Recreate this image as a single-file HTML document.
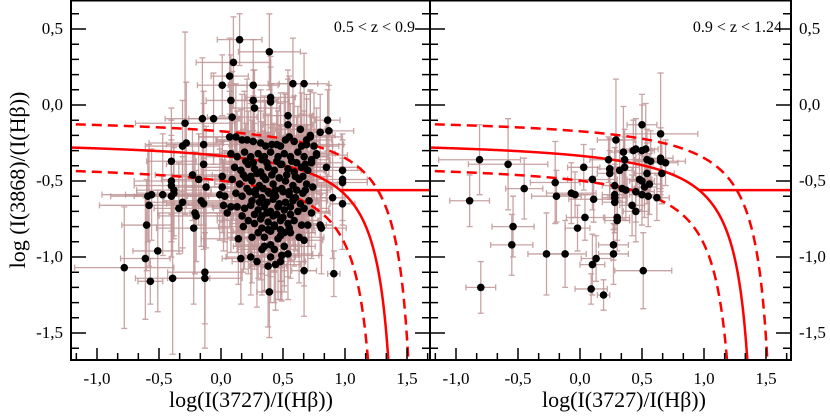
<!DOCTYPE html>
<html><head><meta charset="utf-8">
<style>
html,body{margin:0;padding:0;background:#fff;}
svg{display:block;}
text{font-family:"Liberation Serif","DejaVu Serif",serif;}
</style></head>
<body>
<svg id="chart" width="830" height="417" viewBox="0 0 830 417" xmlns="http://www.w3.org/2000/svg">
<defs>
<clipPath id="clipL"><rect x="71" y="0" width="359" height="360"/></clipPath>
<clipPath id="clipR"><rect x="430" y="0" width="361" height="360"/></clipPath>
</defs>
<g id="bars"></g>
<g id="curves"></g>
<g id="dots"></g>
<g id="axes"></g>
<text transform="translate(25,180) rotate(-90)" text-anchor="middle" font-size="22">log (I(3868)/(I(Hβ))</text>
<text x="251" y="407" text-anchor="middle" font-size="22">log(I(3727)/I(Hβ))</text>
<text x="624" y="407" text-anchor="middle" font-size="22">log(I(3727)/I(Hβ))</text>
<text x="415" y="32" text-anchor="end" font-size="16">0.5 &lt; z &lt; 0.9</text>
<text x="782" y="32" text-anchor="end" font-size="16">0.9 &lt; z &lt; 1.24</text>
</svg>
<script>
// Left panel data (0.5 < z < 0.9)
const lx = [0.15,0.39,0.10,0.07,0.01,0.26,0.58,0.67,0.08,0.26,
0.27,0.40,0.40,-0.29,-0.15,-0.06,0.09,0.54,0.54,0.86,
0.87,0.80,0.64,0.72,0.69,0.77,0.73,0.85,0.98,0.98,
0.98,0.90,0.98,0.80,0.81,0.67,0.91,0.39,0.16,0.24,
0.29,0.38,0.44,0.48,0.49,0.54,0.33,0.40,0.48,0.56,
0.63,0.67,0.70,0.25,0.14,0.18,0.05,0.13,0.17,0.02,
0.03,-0.01,0.01,0.01,-0.14,-0.14,-0.28,-0.31,-0.40,-0.40,
-0.40,-0.38,-0.38,-0.40,-0.31,-0.34,-0.47,-0.56,-0.59,-0.58,
-0.60,-0.61,-0.51,-0.57,-0.39,-0.78,-0.13,-0.13,-0.21,-0.20,
-0.22,-0.16,-0.14,-0.12,-0.18,-0.23,0.07,0.12,0.17,0.21,
0.26,0.32,0.36,0.41,0.45,0.48,0.52,0.55,0.59,0.65,
0.69,0.72,0.75,0.77,
0.08,0.13,0.19,0.24,0.30,0.35,0.40,0.46,0.51,0.56,0.62,0.67,0.73,
0.11,0.16,0.22,0.27,0.32,0.38,0.43,0.48,0.54,0.59,0.65,0.70,
0.09,0.15,0.20,0.25,0.31,0.36,0.42,0.47,0.52,0.58,0.63,0.69,0.74,
0.12,0.17,0.23,0.28,0.33,0.39,0.44,0.50,0.55,0.60,0.66,0.71,
0.08,0.19,0.24,0.30,0.35,0.40,0.46,0.51,0.56,0.62,0.67,0.73,
0.22,0.27,0.32,0.38,0.43,0.48,0.54,0.59,0.65,
0.30,0.35,0.40,0.46,0.51,0.35,0.43,0.51,0.40,
0.20,0.26,0.33,0.37,0.45,0.49,0.57,0.61,0.68,
0.18,0.24,0.29,0.34,0.41,0.47,0.53,0.60,0.66,
0.21,0.28,0.34,0.38,0.44,0.49,0.55,0.61,0.68,
0.25,0.31,0.37,0.42,0.47,0.52,0.58,0.64,
0.27,0.33,0.37,0.42,0.45,0.50,0.56,
0.33,0.38,0.43,0.48,0.55];
const ly = [0.43,0.35,0.28,0.19,0.13,0.13,0.14,0.14,0.03,0.03,
-0.02,0.02,0.05,-0.12,-0.09,-0.09,-0.08,-0.07,-0.13,-0.10,
-0.17,-0.18,-0.16,-0.20,-0.26,-0.33,-0.38,-0.41,-0.43,-0.49,
-0.51,-0.61,-0.65,-0.79,-0.81,-1.09,-1.11,-1.23,-1.01,-1.00,
-1.03,-1.06,-1.05,-1.03,-0.99,-0.98,-0.95,-0.92,-0.86,-0.84,
-0.87,-0.89,-0.79,-0.87,-0.88,-0.80,-0.71,-0.67,-0.73,-0.66,
-0.60,-0.59,-0.54,-0.47,-0.39,-0.26,-0.25,-0.27,-0.37,-0.50,
-0.53,-0.56,-0.58,-0.60,-0.64,-0.68,-0.59,-0.59,-0.60,-0.66,
-0.79,-1.01,-0.96,-1.16,-1.14,-1.07,-1.10,-1.14,-0.71,-0.73,
-0.81,-0.63,-0.65,-0.54,-0.49,-0.46,-0.21,-0.21,-0.23,-0.23,
-0.24,-0.25,-0.27,-0.26,-0.26,-0.27,-0.23,-0.21,-0.24,-0.27,
-0.23,-0.21,-0.27,-0.32,
-0.32,-0.34,-0.31,-0.34,-0.32,-0.34,-0.31,-0.34,-0.32,-0.34,-0.31,-0.34,-0.36,
-0.41,-0.43,-0.39,-0.42,-0.44,-0.41,-0.43,-0.39,-0.42,-0.44,-0.41,-0.43,
-0.49,-0.52,-0.48,-0.50,-0.53,-0.49,-0.52,-0.48,-0.50,-0.53,-0.49,-0.52,-0.54,
-0.58,-0.60,-0.57,-0.59,-0.61,-0.58,-0.60,-0.57,-0.59,-0.61,-0.58,-0.63,
-0.67,-0.68,-0.66,-0.69,-0.67,-0.70,-0.67,-0.69,-0.67,-0.70,-0.68,-0.71,
-0.76,-0.78,-0.75,-0.77,-0.79,-0.76,-0.78,-0.76,-0.79,
-0.84,-0.87,-0.83,-0.88,-0.84,-0.93,-0.95,-0.93,-1.00,
-0.37,-0.38,-0.36,-0.38,-0.37,-0.39,-0.37,-0.38,-0.39,
-0.46,-0.47,-0.45,-0.47,-0.46,-0.48,-0.46,-0.47,-0.47,
-0.55,-0.56,-0.55,-0.57,-0.56,-0.55,-0.57,-0.56,-0.56,
-0.63,-0.64,-0.64,-0.62,-0.65,-0.64,-0.63,-0.65,
-0.72,-0.73,-0.71,-0.73,-0.72,-0.74,-0.72,
-0.81,-0.82,-0.80,-0.82,-0.81];
const lex = [0.18,0.25,0.30,0.15,0.20,0.20,0.20,0.20,0.20,0.20,
0.20,0.15,0.20,0.40,0.30,0.20,0.20,0.20,0.20,0.10,
0.20,0.10,0.20,0.20,0.30,0.25,0.25,0.25,0.15,0.20,
0.20,0.10,0.10,0.10,0.20,0.10,0.05,0.10,0.15,0.20,
0.20,0.15,0.20,0.20,0.30,0.20,0.20,0.25,0.20,0.20,
0.20,0.15,0.20,0.20,0.30,0.20,0.30,0.20,0.20,0.30,
0.30,0.30,0.30,0.40,0.30,0.30,0.30,0.30,0.20,0.30,
0.30,0.30,0.30,0.30,0.30,0.20,0.30,0.40,0.30,0.40,
0.20,0.20,0.20,0.10,0.30,0.40,0.30,0.30,0.30,0.30,
0.30,0.30,0.30,0.30,0.30,0.30,0.25,0.30,0.20,0.25,
0.30,0.25,0.20,0.30,0.25,0.20,0.25,0.30,0.20,0.25,
0.20,0.25,0.20,0.15,
0.30,0.25,0.20,0.30,0.25,0.20,0.30,0.25,0.20,0.30,0.25,0.20,0.15,
0.25,0.30,0.20,0.25,0.30,0.20,0.25,0.30,0.20,0.25,0.20,0.15,
0.30,0.20,0.25,0.30,0.20,0.25,0.30,0.20,0.25,0.30,0.20,0.25,0.15,
0.25,0.30,0.20,0.25,0.30,0.20,0.25,0.30,0.20,0.25,0.20,0.15,
0.30,0.25,0.20,0.30,0.25,0.20,0.30,0.25,0.20,0.25,0.20,0.15,
0.25,0.20,0.30,0.25,0.20,0.30,0.25,0.20,0.20,
0.25,0.20,0.30,0.25,0.20,0.25,0.20,0.25,0.20,
0.20,0.25,0.20,0.15,0.20,0.25,0.20,0.15,0.20,
0.25,0.20,0.15,0.20,0.25,0.20,0.15,0.20,0.20,
0.20,0.15,0.20,0.25,0.20,0.15,0.20,0.25,0.20,
0.20,0.25,0.20,0.15,0.20,0.25,0.20,0.15,
0.20,0.15,0.20,0.25,0.20,0.15,0.20,
0.20,0.25,0.20,0.15,0.20];
const ley = [0.17,0.25,0.30,0.25,0.20,0.30,0.30,0.20,0.30,0.20,
0.25,0.30,0.20,0.60,0.40,0.30,0.30,0.30,0.30,0.20,
0.30,0.25,0.30,0.30,0.30,0.25,0.30,0.30,0.20,0.30,
0.25,0.40,0.30,0.20,0.30,0.30,0.15,0.30,0.30,0.25,
0.30,0.40,0.30,0.25,0.30,0.30,0.30,0.30,0.30,0.30,
0.30,0.30,0.30,0.30,0.30,0.30,0.30,0.30,0.30,0.30,
0.30,0.30,0.30,0.30,0.40,0.35,0.40,0.30,0.35,0.40,
0.30,0.30,0.30,0.40,0.30,0.30,0.40,0.30,0.30,0.40,
0.30,0.40,0.40,0.15,0.50,0.40,0.50,0.30,0.40,0.30,
0.50,0.30,0.30,0.40,0.30,0.30,0.30,0.35,0.30,0.40,
0.30,0.35,0.30,0.40,0.30,0.35,0.30,0.40,0.30,0.35,
0.30,0.30,0.35,0.30,
0.35,0.30,0.40,0.35,0.30,0.40,0.35,0.30,0.40,0.35,0.30,0.30,0.30,
0.30,0.40,0.35,0.30,0.40,0.35,0.30,0.40,0.35,0.30,0.35,0.30,
0.40,0.35,0.30,0.40,0.35,0.30,0.40,0.35,0.30,0.40,0.35,0.30,0.30,
0.35,0.30,0.40,0.35,0.30,0.40,0.35,0.30,0.40,0.35,0.30,0.30,
0.30,0.40,0.35,0.30,0.40,0.35,0.30,0.40,0.35,0.30,0.35,0.30,
0.35,0.30,0.40,0.35,0.30,0.40,0.35,0.30,0.30,
0.30,0.35,0.30,0.40,0.35,0.30,0.35,0.30,0.30,
0.25,0.30,0.25,0.20,0.30,0.25,0.20,0.30,0.25,
0.30,0.25,0.20,0.30,0.25,0.30,0.20,0.25,0.30,
0.25,0.30,0.20,0.25,0.30,0.25,0.20,0.30,0.25,
0.30,0.25,0.30,0.20,0.25,0.30,0.25,0.20,
0.25,0.30,0.25,0.20,0.30,0.25,0.30,
0.30,0.25,0.30,0.25,0.20];

// Right panel data (0.9 < z < 1.24)
const rx = [-0.81,-0.58,-0.89,-0.45,-0.20,-0.19,-0.07,-0.04,0.03,0.10,
0.11,0.04,-0.02,-0.54,-0.55,-0.27,-0.12,-0.80,0.09,0.19,
0.10,0.13,0.27,0.27,0.51,0.29,0.23,0.24,0.24,0.28,
0.28,0.28,0.28,0.30,0.30,0.32,0.35,0.36,0.36,0.34,
0.37,0.42,0.45,0.45,0.43,0.45,0.50,0.50,0.53,0.54,
0.57,0.54,0.56,0.48,0.50,0.50,0.55,0.52,0.65,0.65,
0.65,0.69,0.66,0.62];
const ry = [-0.36,-0.39,-0.63,-0.55,-0.51,-0.60,-0.58,-0.59,-0.41,-0.49,
-0.62,-0.74,-0.81,-0.80,-0.92,-0.98,-0.98,-1.20,-1.21,-1.25,
-1.05,-1.01,-0.92,-0.98,-1.09,-0.23,-0.36,-0.42,-0.45,-0.53,
-0.59,-0.61,-0.64,-0.76,-0.74,-0.43,-0.31,-0.36,-0.41,-0.55,
-0.56,-0.66,-0.70,-0.57,-0.30,-0.29,-0.13,-0.30,-0.29,-0.36,
-0.37,-0.45,-0.52,-0.49,-0.50,-0.59,-0.60,-0.54,-0.19,-0.35,
-0.37,-0.38,-0.45,-0.61];
const rex = [0.33,0.32,0.16,0.15,0.20,0.20,0.20,0.15,0.13,0.20,
0.20,0.15,0.10,0.17,0.17,0.15,0.17,0.12,0.13,0.05,
0.10,0.12,0.12,0.12,0.23,0.15,0.15,0.10,0.10,0.10,
0.10,0.10,0.10,0.10,0.10,0.10,0.12,0.12,0.12,0.10,
0.10,0.10,0.10,0.15,0.15,0.10,0.12,0.10,0.10,0.10,
0.10,0.10,0.10,0.10,0.10,0.10,0.10,0.10,0.30,0.10,
0.20,0.10,0.10,0.10];
const rey = [0.23,0.30,0.17,0.20,0.27,0.17,0.20,0.15,0.15,0.20,
0.15,0.15,0.15,0.20,0.20,0.27,0.22,0.17,0.10,0.10,
0.20,0.15,0.10,0.20,0.25,0.40,0.15,0.20,0.15,0.25,
0.20,0.20,0.20,0.20,0.15,0.20,0.30,0.20,0.20,0.20,
0.20,0.20,0.20,0.20,0.20,0.20,0.20,0.30,0.30,0.20,
0.20,0.20,0.20,0.20,0.20,0.20,0.20,0.20,0.40,0.20,
0.20,0.15,0.20,0.15];

const yTicks = [-1.5,-1.0,-0.5,0.0,0.5];
const yTickLabels = ["-1,5","-1,0","-0,5","0,0","0,5"];
const xTicks = [-1.0,-0.5,0.0,0.5,1.0,1.5];
const xTickLabels = ["-1,0","-0,5","0,0","0,5","1,0","1,5"];

const NS = "http://www.w3.org/2000/svg";
const PX_PER_UNIT = 124, PY_PER_UNIT = 152, Y0 = 105, TOP = 0, BOTTOM = 360;
const panels = [
  {name:"left", x0:221, left:71, right:430, clip:"clipL", xs:lx, ys:ly, ex:lex, ey:ley},
  {name:"right", x0:580, left:430, right:791, clip:"clipR", xs:rx, ys:ry, ex:rex, ey:rey}
];
function sy(v){ return Y0 - v*PY_PER_UNIT; }
function sxf(p){ return v => p.x0 + v*PX_PER_UNIT; }
function mk(tag, attrs, parent){
  const e = document.createElementNS(NS, tag);
  for (const k in attrs) e.setAttribute(k, attrs[k]);
  parent.appendChild(e); return e;
}
const gBars = document.getElementById('bars');
const gCurves = document.getElementById('curves');
const gDots = document.getElementById('dots');
const gAxes = document.getElementById('axes');
const ERR = "#bf9494";

panels.forEach(p => {
  const sx = sxf(p);
  const gb = mk('g', {'clip-path':`url(#${p.clip})`}, gBars);
  
  
  const gd = mk('g', {'clip-path':`url(#${p.clip})`}, gDots);
  
  
  for (let i = 0; i < p.xs.length; i++) {
    const cx = sx(p.xs[i]), cy = sy(p.ys[i]);
    const x1 = sx(p.xs[i]-p.ex[i]), x2 = sx(p.xs[i]+p.ex[i]);
    const y1 = sy(p.ys[i]+p.ey[i]), y2 = sy(p.ys[i]-p.ey[i]);
    const d = `M${x1},${cy}H${x2}M${cx},${y1}V${y2}M${x1},${cy-3}V${cy+3}M${x2},${cy-3}V${cy+3}M${cx-3},${y1}H${cx+3}M${cx-3},${y2}H${cx+3}`;
    const eb = mk('path', {d:d, stroke:ERR, 'stroke-width':1.3, fill:'none', opacity:0.85}, gb);
    
    
    const c = mk('circle', {cx:cx, cy:cy, r:3.8, fill:'#000'}, gd);
    
    
  }
  const gc = mk('g', {'clip-path':`url(#${p.clip})`}, gCurves);
  
  
  const A = 0.1765, B = 1.47, C = -0.214;
  const f = x => C + A/(x - B);
  [[0,0,'solid'],[0.15,0.15,'upper-dashed'],[-0.15,-0.15,'lower-dashed']].forEach(([dx,dy,nm]) => {
    let d = '';
    const xmax = B + dx - 0.001;
    for (let x = -1.3; x < xmax; x += 0.005) {
      const y = f(x - dx) + dy;
      if (y < -2.2) break;
      d += (d ? 'L' : 'M') + sx(x).toFixed(2) + ',' + sy(y).toFixed(2);
    }
    const attrs = {d:d, fill:'none', stroke:'#ff0000', 'stroke-width':2.5};
    if (nm !== 'solid') attrs['stroke-dasharray'] = '10,6';
    const ln = mk('path', attrs, gc);
    
    
  });
  const hl = mk('line', {x1:sx(0.96), x2:p.right, y1:sy(-0.56), y2:sy(-0.56), stroke:'#ff0000', 'stroke-width':2.5}, gc);
  
  

  const ga = mk('g', {}, gAxes);
  
  
  const fr = mk('rect', {x:p.left, y:TOP+0.5, width:p.right-p.left, height:BOTTOM-TOP-0.5, fill:'none', stroke:'#000', 'stroke-width':2}, ga);
  
  
  let td = '';
  for (let k = -12; k <= 12; k++) {
    const v = k/6; const X = sx(v);
    if (X <= p.left+1 || X >= p.right-1) continue;
    const len = (k % 3 === 0) ? 12 : 7;
    td += `M${X},${BOTTOM}V${BOTTOM-len}`;
  }
  for (let k = -17; k <= 7; k++) {
    const v = k/10; const Y = sy(v);
    if (Y <= TOP+1 || Y >= BOTTOM-1) continue;
    const len = (k % 5 === 0) ? 15 : 8;
    td += `M${p.left},${Y}H${p.left+len}M${p.right},${Y}H${p.right-len}`;
  }
  mk('path', {d:td, stroke:'#000', 'stroke-width':1.5, fill:'none'}, ga);
  xTicks.forEach((v, i) => {
    const t = mk('text', {x:sx(v), y:384, 'text-anchor':'middle', 'font-size':17}, ga);
    t.textContent = xTickLabels[i];
    
    
  });
});
yTicks.forEach((v, i) => {
  const t1 = mk('text', {x:63, y:sy(v)+5, 'text-anchor':'end', 'font-size':17}, gAxes);
  t1.textContent = yTickLabels[i];
  
  
  const t2 = mk('text', {x:799, y:sy(v)+5, 'text-anchor':'start', 'font-size':17}, gAxes);
  t2.textContent = yTickLabels[i];
  
  
});
</script>
</body></html>
